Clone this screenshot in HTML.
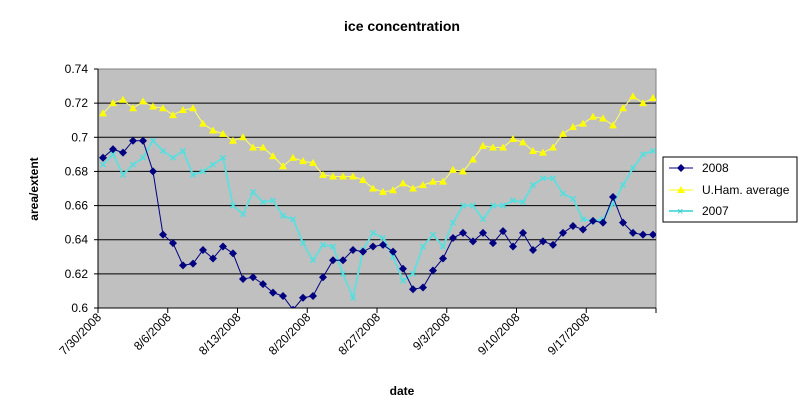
<!DOCTYPE html><html><head><style>body{margin:0;background:#fff}svg{display:block;font-family:"Liberation Sans",Arial,sans-serif}</style></head><body>
<svg id="s" width="805" height="410" xmlns="http://www.w3.org/2000/svg">
<rect x="0" y="0" width="805" height="410" fill="#fff"/>
<text x="402" y="31" font-size="14" font-weight="bold" text-anchor="middle">ice concentration</text>
<rect x="98" y="69" width="558" height="239" fill="#c0c0c0" stroke="#808080"/>
<g id="g"></g>
<text x="402" y="395" font-size="12" font-weight="bold" text-anchor="middle">date</text>
<text transform="translate(38,189) rotate(-90)" font-size="12" font-weight="bold" text-anchor="middle">area/extent</text>
<rect x="663" y="157" width="134" height="65" fill="#fff" stroke="#000"/>
<line x1="669" y1="168" x2="693" y2="168" stroke="#000080"/><path d="M681,164 L685,168 L681,172 L677,168Z" fill="#000080"/>
<text x="702" y="172" font-size="12">2008</text>
<line x1="669" y1="190" x2="693" y2="190" stroke="#ffff00"/><path d="M681,186 L685,193 L677,193Z" fill="#ffff00"/>
<text x="702" y="194" font-size="12">U.Ham. average</text>
<line x1="669" y1="211" x2="693" y2="211" stroke="#66dddd" stroke-width="2"/><text x="677" y="215" font-size="11" fill="#33cccc">×</text>
<text x="702" y="215" font-size="12">2007</text>
</svg>
<script>
var a=[.688,.693,.691,.698,.698,.68,.643,.638,.625,.626,.634,.629,.636,.632,.617,.618,.614,.609,.607,.599,.606,.607,.618,.628,.628,.634,.633,.636,.637,.633,.623,.611,.612,.622,.629,.641,.644,.639,.644,.638,.645,.636,.644,.634,.639,.637,.644,.648,.646,.651,.650,.665,.650,.644,.643,.643];
var b=[.714,.720,.722,.717,.721,.718,.717,.713,.716,.717,.708,.704,.702,.698,.700,.694,.694,.689,.683,.688,.686,.685,.678,.677,.677,.677,.675,.670,.668,.669,.673,.670,.672,.674,.674,.681,.680,.687,.695,.694,.694,.699,.697,.692,.691,.694,.702,.706,.708,.712,.711,.707,.717,.724,.720,.723];
var c=[.684,.690,.678,.684,.688,.698,.692,.688,.692,.678,.680,.684,.688,.660,.655,.668,.662,.663,.654,.652,.638,.628,.637,.636,.620,.606,.634,.644,.641,.630,.616,.620,.636,.643,.636,.650,.660,.660,.652,.660,.660,.663,.662,.672,.676,.676,.667,.664,.652,.651,.652,.661,.672,.682,.690,.692];
function Y(v){return 308-(v-.6)/.14*239}function X(i){return 103+i*10}
var h='';
for(var k=1;k<7;k++){var y=308-k*239/7;h+='<line x1="98" x2="656" y1="'+y+'" y2="'+y+'" stroke="#000"/>';}
var labs=['0.6','0.62','0.64','0.66','0.68','0.7','0.72','0.74'];
for(var k=0;k<8;k++){var y=308-k*239/7;h+='<line x1="94" x2="98" y1="'+y+'" y2="'+y+'" stroke="#000"/><text x="88" y="'+(y+4)+'" font-size="12" text-anchor="end">'+labs[k]+'</text>';}
h+='<line x1="98" x2="656" y1="308" y2="308" stroke="#000"/><line x1="98" x2="98" y1="69" y2="308" stroke="#000"/>';
var d=['7/30/2008','8/6/2008','8/13/2008','8/20/2008','8/27/2008','9/3/2008','9/10/2008','9/17/2008'];
for(var k=0;k<9;k++){var x=98+k*69.75;h+='<line x1="'+x+'" x2="'+x+'" y1="308" y2="313" stroke="#000"/>';if(k<8)h+='<text transform="translate('+(x+4)+',318) rotate(-45)" font-size="12" text-anchor="end">'+d[k]+'</text>';}
h+='<svg x="98" y="69" width="558" height="239" viewBox="98 69 558 239" overflow="hidden">';
function pl(s,col,w){return '<polyline fill="none" stroke="'+col+'" stroke-width="'+w+'" points="'+s.map(function(v,i){return X(i)+','+Y(v)}).join(' ')+'"/>'}
h+=pl(c,'#66dddd',2);
c.forEach(function(v,i){var x=X(i),y=Y(v);h+='<path d="M'+(x-2.5)+','+(y-2.5)+'L'+(x+2.5)+','+(y+2.5)+'M'+(x+2.5)+','+(y-2.5)+'L'+(x-2.5)+','+(y+2.5)+'" stroke="#55dddd" stroke-width="1.5"/>'});
h+=pl(b,'#ffff66',1);
b.forEach(function(v,i){var x=X(i),y=Y(v);h+='<path d="M'+x+','+(y-4)+'L'+(x+4)+','+(y+3)+'L'+(x-4)+','+(y+3)+'Z" fill="#ffff00"/>'});
h+=pl(a,'#000080',1);
a.forEach(function(v,i){var x=X(i),y=Y(v);h+='<path d="M'+x+','+(y-4)+'L'+(x+4)+','+y+'L'+x+','+(y+4)+'L'+(x-4)+','+y+'Z" fill="#000080"/>'});
h+='</svg>';
document.getElementById('g').innerHTML=h;
</script></body></html>
